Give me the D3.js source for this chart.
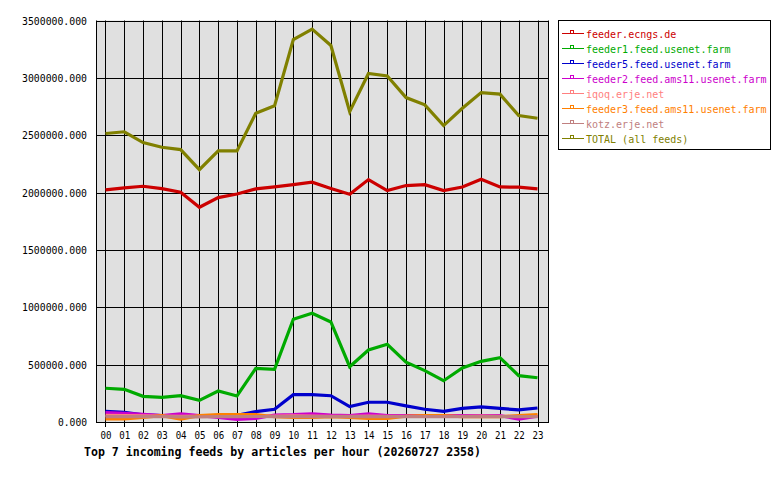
<!DOCTYPE html>
<html lang="en">
<head>
    <meta charset="UTF-8">
    <title>Top 7 incoming feeds</title>
    <script src="https://cdn.jsdelivr.net/npm/d3@7/dist/d3.min.js"></script>
    <style>
        body { margin: 0; background: #fff; }
        text { font-family: "DejaVu Sans Mono", "Liberation Mono", monospace; }
    </style>
</head>
<body>
<script>
    var w = 780;
    var h = 480;

    var hours = ["00", "01", "02", "03", "04", "05", "06", "07", "08", "09", "10", "11",
        "12", "13", "14", "15", "16", "17", "18", "19", "20", "21", "22", "23"];

    var yTicks = [0, 500000, 1000000, 1500000, 2000000, 2500000, 3000000, 3500000];

    var feedNames = ["feeder.ecngs.de", "feeder1.feed.usenet.farm", "feeder5.feed.usenet.farm",
        "feeder2.feed.ams11.usenet.farm", "iqoq.erje.net", "feeder3.feed.ams11.usenet.farm",
        "kotz.erje.net", "TOTAL (all feeds)"];

    var feedColors = ["#cc0000", "#00aa00", "#0000cc", "#cc00cc", "#ff8080", "#ff8000", "#c08080", "#808000"];

    var ecngs = [2023000, 2041000, 2055000, 2035000, 2003000, 1872000, 1956000, 1988000, 2032000, 2049000, 2069000, 2090000,
        2035000, 1986000, 2113000, 2017000, 2061000, 2069000, 2017000, 2049000, 2117000, 2049000, 2047000, 2032000];
    var feeder1 = [294000, 285000, 224000, 215000, 229000, 189000, 270000, 227000, 468000, 459000, 896000, 948000,
        872000, 482000, 628000, 677000, 521000, 448000, 360000, 471000, 529000, 561000, 404000, 386000];
    var feeder5 = [93000, 85000, 62000, 55000, 48000, 50000, 52000, 58000, 90000, 111000, 238000, 238000,
        229000, 134000, 172000, 172000, 140000, 111000, 93000, 119000, 131000, 119000, 105000, 122000];
    var feeder2 = [81000, 76000, 67000, 55000, 70000, 55000, 40000, 23000, 32000, 61000, 64000, 72000,
        61000, 55000, 70000, 55000, 55000, 55000, 55000, 55000, 55000, 55000, 26000, 50000];
    var iqoq = [58000, 56000, 54000, 52000, 50000, 52000, 50000, 48000, 50000, 52000, 54000, 52000,
        50000, 50000, 52000, 50000, 50000, 52000, 50000, 50000, 52000, 50000, 50000, 52000];
    var feeder3 = [26000, 26000, 41000, 55000, 26000, 55000, 64000, 64000, 64000, 46000, 41000, 41000,
        46000, 41000, 32000, 32000, 50000, 55000, 55000, 46000, 46000, 46000, 55000, 64000];
    var kotz = [46000, 48000, 46000, 46000, 44000, 44000, 46000, 46000, 48000, 46000, 46000, 46000,
        46000, 46000, 46000, 46000, 46000, 46000, 46000, 46000, 46000, 46000, 46000, 46000];
    var total = [2515000, 2530000, 2436000, 2395000, 2375000, 2200000, 2363000, 2363000, 2692000, 2756000, 3334000, 3425000,
        3282000, 2706000, 3038000, 3017000, 2828000, 2765000, 2584000, 2735000, 2872000, 2858000, 2671000, 2648000];

    var series = [ecngs, feeder1, feeder5, feeder2, iqoq, feeder3, kotz, total];

    var plotLeft = 96, plotRight = 548, plotTop = 20.5, plotBottom = 422;
    var charW = 6;   // fixed-width font, 6px per char

    var svg = d3.select("body")
        .append("svg")
        .attr("width", w)
        .attr("height", h);

    var xScale = d3.scalePoint()
        .domain(hours)
        .range([105.5, 537.5]);

    var yScale = d3.scaleLinear()
        .domain([0, 3500000])
        .range([plotBottom, plotTop]);

    // plot background
    svg.append("rect")
        .attr("x", plotLeft)
        .attr("y", plotTop)
        .attr("width", plotRight - plotLeft)
        .attr("height", plotBottom - plotTop)
        .attr("fill", "#e0e0e0");

    // vertical grid lines with ticks under the axis
    svg.selectAll(".vgrid")
        .data(hours).enter()
        .append("line")
        .attr("class", "vgrid")
        .attr("x1", function (d) { return Math.round(xScale(d)) + 0.5; })
        .attr("x2", function (d) { return Math.round(xScale(d)) + 0.5; })
        .attr("y1", plotTop)
        .attr("y2", plotBottom + 5)
        .attr("stroke", "#000")
        .attr("stroke-width", 1);

    // horizontal grid lines
    svg.selectAll(".hgrid")
        .data(yTicks).enter()
        .append("line")
        .attr("class", "hgrid")
        .attr("x1", plotLeft)
        .attr("x2", plotRight)
        .attr("y1", function (d) { return Math.round(yScale(d)) + 0.5; })
        .attr("y2", function (d) { return Math.round(yScale(d)) + 0.5; })
        .attr("stroke", "#000")
        .attr("stroke-width", 1);

    // frame sides
    svg.append("line")
        .attr("x1", plotLeft + 0.5).attr("x2", plotLeft + 0.5)
        .attr("y1", plotTop).attr("y2", plotBottom + 1)
        .attr("stroke", "#000").attr("stroke-width", 1);
    svg.append("line")
        .attr("x1", plotRight + 0.5).attr("x2", plotRight + 0.5)
        .attr("y1", plotTop).attr("y2", plotBottom + 1)
        .attr("stroke", "#000").attr("stroke-width", 1);

    // y labels
    svg.selectAll(".ylab")
        .data(yTicks).enter()
        .append("text")
        .attr("class", "ylab")
        .attr("x", 87)
        .attr("y", function (d) { return yScale(d) + 4; })
        .attr("text-anchor", "end")
        .attr("font-size", "11px")
        .attr("textLength", function (d) { return d3.format(".3f")(d).length * charW - 1; })
        .attr("lengthAdjust", "spacingAndGlyphs")
        .attr("fill", "#000")
        .text(function (d) { return d3.format(".3f")(d); });

    // x labels
    svg.selectAll(".xlab")
        .data(hours).enter()
        .append("text")
        .attr("class", "xlab")
        .attr("x", function (d) { return xScale(d) + 0.5; })
        .attr("y", 438.5)
        .attr("text-anchor", "middle")
        .attr("font-size", "11px")
        .attr("textLength", 2 * charW - 1)
        .attr("lengthAdjust", "spacingAndGlyphs")
        .attr("fill", "#000")
        .text(function (d) { return d; });

    // title
    svg.append("text")
        .attr("x", 84)
        .attr("y", 456)
        .attr("font-size", "12px")
        .attr("font-weight", "bold")
        .attr("textLength", 397)
        .attr("lengthAdjust", "spacingAndGlyphs")
        .attr("fill", "#000")
        .text("Top 7 incoming feeds by articles per hour (20260727 2358)");

    // lines
    var line = d3.line()
        .x(function (d, i) { return xScale(hours[i]); })
        .y(function (d) { return yScale(d); });

    svg.selectAll(".feed")
        .data(series).enter()
        .append("path")
        .attr("class", "feed")
        .attr("d", line)
        .attr("fill", "none")
        .attr("stroke", function (d, i) { return feedColors[i]; })
        .attr("stroke-width", 3.2);

    // legend
    svg.append("rect")
        .attr("x", 558.5)
        .attr("y", 20.5)
        .attr("width", 212)
        .attr("height", 129)
        .attr("fill", "#fff")
        .attr("stroke", "#000")
        .attr("stroke-width", 1);

    var legend = svg.selectAll(".legend")
        .data(feedNames).enter()
        .append("g")
        .attr("class", "legend")
        .attr("transform", function (d, i) { return "translate(0," + (33 + i * 15) + ")"; });

    legend.append("line")
        .attr("x1", 562).attr("x2", 584)
        .attr("y1", 0.5).attr("y2", 0.5)
        .attr("stroke", function (d, i) { return feedColors[i]; })
        .attr("stroke-width", 1);

    legend.append("rect")
        .attr("x", 570.5).attr("y", -2.5)
        .attr("width", 3).attr("height", 3)
        .attr("fill", "none")
        .attr("stroke", function (d, i) { return feedColors[i]; })
        .attr("stroke-width", 1);

    legend.append("text")
        .attr("x", 586)
        .attr("y", 4.5)
        .attr("font-size", "10px")
        .attr("fill", function (d, i) { return feedColors[i]; })
        .text(function (d) { return d; });
</script>
</body>
</html>
